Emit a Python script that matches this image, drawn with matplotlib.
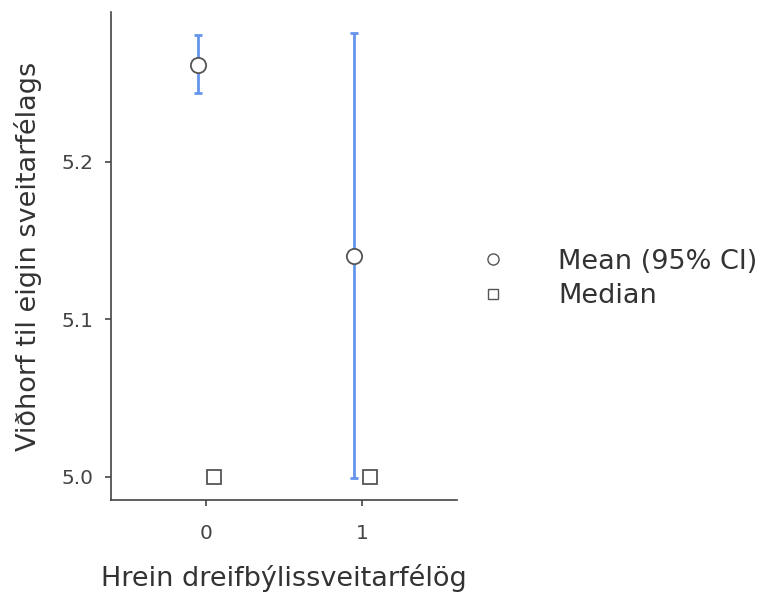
import matplotlib
matplotlib.use("Agg")
import matplotlib.pyplot as plt
from matplotlib.lines import Line2D

plt.rcParams['font.family'] = ['DejaVu Sans']

categories = ["0", "1"]
means = [5.2616, 5.1403]
ci_low = [5.2436, 4.9992]
ci_high = [5.2806, 5.2817]
medians = [5.0, 5.0]
yticks = [5.0, 5.1, 5.2]

xlabel = "Hrein dreifbýlissveitarfélög"
ylabel = "Viðhorf til eigin sveitarfélags"
legend_labels = ["Mean (95% CI)", "Median"]

fig = plt.figure(figsize=(7.71, 5.92), dpi=100)
ax = fig.add_axes([111/771, 1 - 500/592, (457-111)/771, (500-12)/592])

x = list(range(len(categories)))
dodge = 0.05
xm = [xi - dodge for xi in x]
xmed = [xi + dodge for xi in x]

err_low = [m - l for m, l in zip(means, ci_low)]
err_high = [h - m for m, h in zip(means, ci_high)]
ax.errorbar(xm, means, yerr=[err_low, err_high], fmt='none', ecolor='#6495ED',
            elinewidth=2, capsize=3, capthick=2, zorder=2)
ax.plot(xm, means, 'o', markersize=11, markerfacecolor='white', markeredgecolor='#555555',
        markeredgewidth=1.3, zorder=3, linestyle='none')
ax.plot(xmed, medians, 's', markersize=10, markerfacecolor='white', markeredgecolor='#555555',
        markeredgewidth=1.3, zorder=3, linestyle='none')

ax.set_xlim(-0.61, 1.61)
ax.set_ylim(4.9854, 5.295)
ax.set_xticks(x)
ax.set_xticklabels(categories)
ax.set_yticks(yticks)
ax.set_yticklabels([f"{v:.1f}" for v in yticks])

for s in ['top', 'right']:
    ax.spines[s].set_visible(False)
for s in ['left', 'bottom']:
    ax.spines[s].set_color('#444444')
    ax.spines[s].set_linewidth(1.2)
ax.tick_params(colors='#444444', labelcolor='#444444', labelsize=14.5, length=4.5, width=1.2)
ax.tick_params(axis='y', pad=8)
ax.tick_params(axis='x', pad=13)

ax.set_xlabel(xlabel, fontsize=19.5, color='#333333', labelpad=15)
ax.set_ylabel(ylabel, fontsize=19.5, color='#333333', labelpad=14)

handles = [
    Line2D([], [], marker='o', linestyle='none', markersize=8, markerfacecolor='white',
           markeredgecolor='#555555', markeredgewidth=1.0, label=legend_labels[0]),
    Line2D([], [], marker='s', linestyle='none', markersize=7.5, markerfacecolor='white',
           markeredgecolor='#555555', markeredgewidth=1.0, label=legend_labels[1]),
]
leg = fig.legend(handles=handles, loc='center left', bbox_to_anchor=(474/771, 1 - 279/592),
                 frameon=False, fontsize=19.5, handletextpad=1.7, labelspacing=0.3,
                 handlelength=1.4, borderpad=0, borderaxespad=0)
for t in leg.get_texts():
    t.set_color('#333333')

fig.savefig("out.png", dpi=100)
